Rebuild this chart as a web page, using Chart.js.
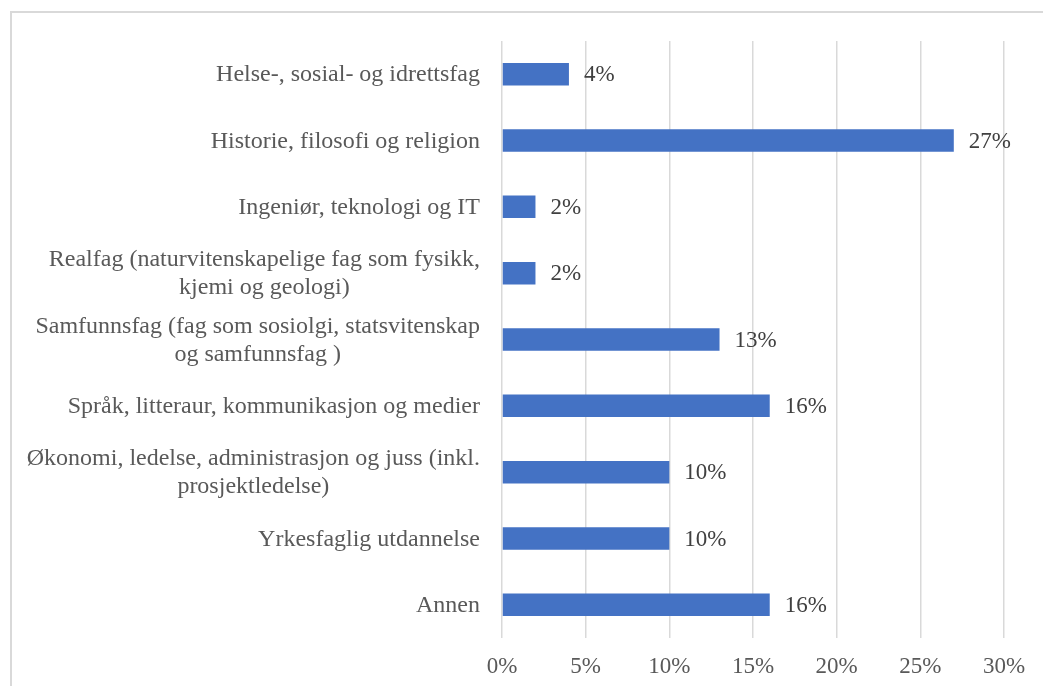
<!DOCTYPE html>
<html lang="no">
<head>
    <meta charset="UTF-8">
    <title>Utdanningsbakgrunn</title>
    <script src="https://cdn.jsdelivr.net/npm/chart.js"></script>
    <style>
        html, body {
            margin: 0;
            overflow: hidden;
            background: #ffffff;
        }

        .frame {
            position: absolute;
            left: 10px;
            top: 11px;
            width: 1100px;
            height: 720px;
            border: 2px solid #d9d9d9;
        }

        #fagChart {
            position: absolute;
            left: 0;
            top: 0;
        }
    </style>
</head>
<body>
    <div class="frame"></div>
    <canvas id="fagChart" width="1043" height="686"></canvas>

    <script>
        // Fagområder (multi-line labels are arrays)
        const categories = [
            'Helse-, sosial- og idrettsfag',
            'Historie, filosofi og religion',
            'Ingeniør, teknologi og IT',
            ['Realfag (naturvitenskapelige fag som fysikk,', 'kjemi og geologi)'],
            ['Samfunnsfag (fag som sosiolgi, statsvitenskap', 'og samfunnsfag )'],
            'Språk, litteraur, kommunikasjon og medier',
            ['Økonomi, ledelse, administrasjon og juss (inkl.', 'prosjektledelse)'],
            'Yrkesfaglig utdannelse',
            'Annen'
        ];
        // Share of respondents, in percent
        const shares = [4, 27, 2, 2, 13, 16, 10, 10, 16];
        // X axis ticks
        const xTicks = [0, 5, 10, 15, 20, 25, 30];

        const FONT = "'Liberation Serif', 'Times New Roman', serif";

        // Category labels: each label block right-aligned, lines centred inside it
        const categoryLabels = {
            id: 'categoryLabels',
            afterDraw(chart) {
                const ctx = chart.ctx;
                const yScale = chart.scales.y;
                const right = chart.chartArea.left - 22;
                const lineH = 28;
                ctx.save();
                ctx.font = '24px ' + FONT;
                ctx.fillStyle = '#595959';
                ctx.textBaseline = 'middle';
                ctx.textAlign = 'center';
                categories.forEach((label, i) => {
                    const lines = Array.isArray(label) ? label : [label];
                    const widest = Math.max(...lines.map(l => ctx.measureText(l).width));
                    const cx = right - widest / 2;
                    const cy = yScale.getPixelForValue(i);
                    const y0 = cy - (lines.length - 1) * lineH / 2 + 1;
                    lines.forEach((l, k) => ctx.fillText(l, cx, y0 + k * lineH));
                });
                ctx.restore();
            }
        };

        // Value labels at the end of each bar
        const valueLabels = {
            id: 'valueLabels',
            afterDatasetsDraw(chart) {
                const ctx = chart.ctx;
                const meta = chart.getDatasetMeta(0);
                ctx.save();
                ctx.font = '23px ' + FONT;
                ctx.fillStyle = '#404040';
                ctx.textBaseline = 'middle';
                ctx.textAlign = 'left';
                meta.data.forEach((bar, i) => {
                    ctx.fillText(shares[i] + '%', bar.x + 15, bar.y + 1);
                });
                ctx.restore();
            }
        };

        const ctx = document.getElementById('fagChart').getContext('2d');
        new Chart(ctx, {
            type: 'bar',
            data: {
                labels: categories,
                datasets: [{
                    data: shares,
                    backgroundColor: '#4472C4',
                    borderWidth: 0,
                    barPercentage: 0.34,
                    categoryPercentage: 1
                }]
            },
            options: {
                indexAxis: 'y',
                responsive: false,
                animation: false,
                layout: {
                    padding: { top: 41, right: 39, bottom: 0, left: 0 }
                },
                plugins: {
                    legend: { display: false },
                    tooltip: { enabled: false }
                },
                scales: {
                    x: {
                        min: 0,
                        max: 30,
                        afterBuildTicks(scale) {
                            scale.ticks = xTicks.map(v => ({ value: v }));
                        },
                        afterFit(scale) {
                            scale.height = 48;
                        },
                        grid: {
                            color: '#d9d9d9',
                            lineWidth: 1.5,
                            drawTicks: false
                        },
                        border: { display: false },
                        ticks: {
                            padding: 15,
                            color: '#595959',
                            font: { family: FONT, size: 23 },
                            callback: v => v + '%'
                        }
                    },
                    y: {
                        grid: { display: false },
                        border: { display: false },
                        ticks: { display: false },
                        afterFit(scale) {
                            scale.width = 502;
                        }
                    }
                }
            },
            plugins: [categoryLabels, valueLabels]
        });
    </script>
</body>
</html>
